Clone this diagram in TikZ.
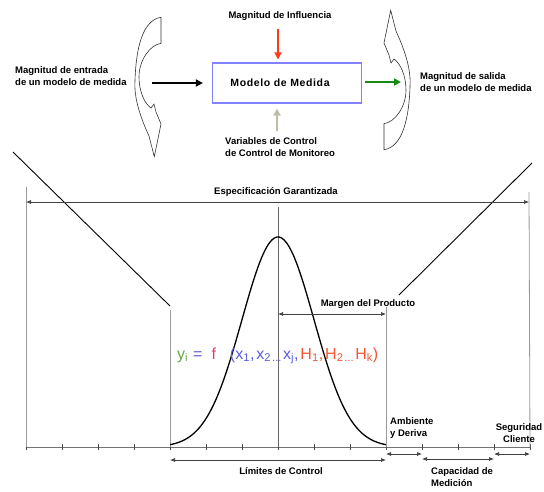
\documentclass[tikz,border=0pt]{standalone}
\usepackage{fontspec}
\setmainfont{Liberation Sans}
\usetikzlibrary{arrows.meta,calc}

\definecolor{boxblue}{RGB}{130,130,255}
\definecolor{arrred}{RGB}{250,60,30}
\definecolor{arrgreen}{RGB}{20,140,20}
\definecolor{arrgray}{RGB}{190,190,170}
\definecolor{fy}{RGB}{100,165,70}
\definecolor{feq}{RGB}{90,90,210}
\definecolor{ff}{RGB}{230,60,110}
\definecolor{fx}{RGB}{90,90,225}
\definecolor{fh}{RGB}{245,85,50}

\tikzset{
  bendarrow/.pic={
    \draw[draw=black!80,line width=0.6pt,fill=white]
      (161,17.3) -- (161,43.3)
      .. controls (150,45) and (139,60) .. (139,77)
      .. controls (139,92) and (145,104) .. (151,108)
      -- (154,104) -- (156,112) -- (161,124) -- (154.3,156.7) -- (149,136)
      .. controls (138,112) and (134,95) .. (135,80)
      .. controls (136,50) and (142,20) .. (161,17.3) -- cycle;
  }
}

\begin{document}
\begin{tikzpicture}[x=1pt,y=-1pt,
  lbl/.style={font=\fontsize{9.5}{11.5}\selectfont\bfseries,inner sep=0pt},
  bigarrow/.style={-{Triangle[length=7pt,width=7pt]},line width=2pt},
  dim/.style={{Latex[length=5pt,width=4pt]}-{Latex[length=5pt,width=4pt]},line width=0.7pt,draw=black!75},
  guide/.style={draw=black!40,line width=0.8pt},
  diag/.style={draw=black,line width=0.9pt}]
  \useasboundingbox (0,0) rectangle (544,491);

  \node[draw=boxblue,line width=1.2pt,minimum width=149pt,minimum height=40pt,
    font=\fontsize{10.5}{12}\selectfont\bfseries\addfontfeature{LetterSpace=6}] (MM) at (287,83) {Modelo de Medida\hspace*{14pt}};
  \node[lbl] (infl) at (280,16) {Magnitud de Influencia};
  \node[lbl,align=left,anchor=west] (entr) at (15,76) {Magnitud de entrada\\de un modelo de medida};
  \node[lbl,align=left,anchor=west] (sal) at (420,82) {Magnitud de salida\\de un modelo de medida};
  \node[lbl,align=left,anchor=west] (ctrl) at (225,147) {Variables de Control\\de Control de Monitoreo};

  \coordinate (inA) at (152,83);
  \coordinate (outB) at (401,82);
  \coordinate (rA) at (278,29);
  \coordinate (gA) at (277,131);
  \draw[bigarrow,shorten >=9pt] (inA) -- (MM.west |- inA);
  \draw[bigarrow,arrgreen,shorten <=3pt] (MM.east |- outB) -- (outB);
  \draw[bigarrow,arrred,shorten >=3pt] (rA) -- (rA |- MM.north);
  \draw[bigarrow,arrgray,shorten >=5pt] (gA) -- (gA |- MM.south);

  \pic at (0,0) {bendarrow};
  \pic[rotate=180] at (545,167) {bendarrow};

  \foreach \i in {0,...,14}
    \coordinate (t\i) at (26+36*\i,447);
  \draw[guide,draw=black!55] (t0) -- (t14);
  \foreach \i in {0,...,14}
    \draw[black!70,line width=0.7pt] ([yshift=3pt]t\i) -- ([yshift=-3pt]t\i);
  \draw[guide] (26,187) -- (t0);
  \draw[guide] (529,192) -- (t14);
  \draw[guide] (170,310) -- (t4);
  \draw[guide,draw=black!60] (278,207) -- (t7);
  \draw[guide] (386,307) -- (t10);

  \draw[diag] (13,152) -- (170,306);
  \draw[diag] (532,163) -- (399,295);

  \draw[line width=1.3pt] plot[domain=170:386,samples=90,smooth]
    (\x,{447-210*exp(-0.5*((\x-278)/36)*((\x-278)/36))});

  \node[lbl] (espec) at (276,192) {Especificación Garantizada};
  \node[lbl] (marg) at (368,304) {Margen del Producto};
  \node[lbl] (lim) at (281,471) {Límites de Control};
  \node[lbl,align=left,anchor=west] (amb) at (390,428) {Ambiente\\y Deriva};
  \node[lbl,align=left,anchor=west] (cap) at (431,477) {Capacidad de\\Medición};
  \node[lbl,align=center] (seg) at (519,433) {Seguridad\\Cliente};

  \coordinate (eL) at (26,202);  \coordinate (eR) at (529,202);
  \coordinate (mL) at (278,314); \coordinate (mR) at (386,314);
  \coordinate (lL) at (170,460); \coordinate (lR) at (386,460);
  \coordinate (aL) at (386,454); \coordinate (aR) at (422,454);
  \coordinate (cL) at (422,459); \coordinate (cR) at (494,459);
  \coordinate (sL) at (494,454); \coordinate (sR) at (530,454);
  \draw[dim] (eL) -- (eR);
  \draw[dim] (mL) -- (mR);
  \draw[dim] (lL) -- (lR);
  \draw[dim] (aL) -- (aR);
  \draw[dim] (cL) -- (cR);
  \draw[dim] (sL) -- (sR);

  \node[anchor=west,inner sep=0pt,font=\fontsize{16}{18}\selectfont] (yf) at (177,356)
    {\textcolor{fy}{y\textsubscript{i}}\hspace{5pt}\textcolor{feq}{=}\hspace{9pt}\textcolor{ff}{f}\hspace{14pt}\textcolor{fx}{(x\textsubscript{1},\hspace{2pt}x\textsubscript{2}\hspace{1pt}\textsubscript{...}\hspace{1pt}x\textsubscript{j},}\hspace{2pt}\textcolor{fh}{H\textsubscript{1},\hspace{2pt}H\textsubscript{2}\hspace{1pt}\textsubscript{...}\hspace{1pt}H\textsubscript{k})}};
\end{tikzpicture}
\end{document}
